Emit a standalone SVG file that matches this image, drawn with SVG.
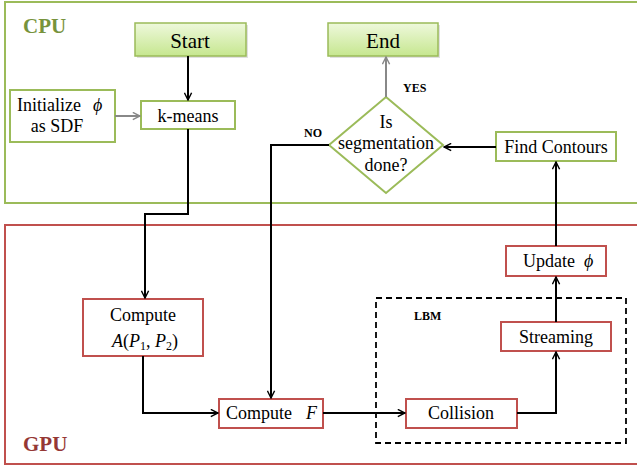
<svg xmlns="http://www.w3.org/2000/svg" width="637" height="466" viewBox="0 0 637 466">
<defs>
<linearGradient id="g" x1="0" y1="0" x2="0" y2="1">
<stop offset="0" stop-color="#eef8dc"/>
<stop offset="1" stop-color="#c6e78f"/>
</linearGradient>
<marker id="ah" viewBox="0 0 10 10" refX="9" refY="5" markerWidth="9" markerHeight="9" markerUnits="userSpaceOnUse" orient="auto">
<path d="M1,1 L9,5 L1,9" fill="none" stroke="#000" stroke-width="1.6"/>
</marker>
<marker id="ahg" viewBox="0 0 10 10" refX="9" refY="5" markerWidth="9" markerHeight="9" markerUnits="userSpaceOnUse" orient="auto">
<path d="M1,1 L9,5 L1,9" fill="none" stroke="#888" stroke-width="1.6"/>
</marker>
</defs>
<style>
text{font-family:"Liberation Serif","Times New Roman",serif;fill:#000}
.t{font-size:18px;text-anchor:middle}
.s{font-size:18px}
.g{fill:#fff;stroke:#9bbb59;stroke-width:2}
.r{fill:#fff;stroke:#c0504d;stroke-width:2}
.se{fill:url(#g);stroke:#9bbb59;stroke-width:1.5}
.sh{fill:#000;opacity:0.12}
.c{fill:none;stroke:#000;stroke-width:2}
.cg{fill:none;stroke:#888;stroke-width:2}
.lb{font-size:12px;font-weight:bold}
</style>
<g id="cpu">
<rect x="5" y="2" width="640" height="201" fill="none" stroke="#9bbb59" stroke-width="2"/>
<text x="23" y="33" style="font-size:21px;font-weight:bold;fill:#77933c">CPU</text>
</g>
<g id="gpu">
<rect x="5" y="225" width="640" height="239" fill="none" stroke="#c0504d" stroke-width="2"/>
<text x="23" y="451" style="font-size:21px;font-weight:bold;fill:#953735">GPU</text>
</g>
<g id="lbm">
<rect x="376" y="298" width="250" height="145" fill="none" stroke="#000" stroke-width="1.8" stroke-dasharray="6,4"/>
<text x="414" y="320" class="lb">LBM</text>
</g>
<g id="start">
<rect x="137" y="25" width="111" height="33" class="sh"/>
<rect x="135" y="23" width="111" height="33" class="se"/>
<text x="190" y="48" class="t" style="font-size:21px">Start</text>
</g>
<g id="end">
<rect x="330" y="25" width="110" height="33" class="sh"/>
<rect x="328" y="23" width="110" height="33" class="se"/>
<text x="383" y="48" class="t" style="font-size:21px">End</text>
</g>
<g id="init">
<rect x="10" y="90" width="105" height="52" class="g"/>
<text x="17" y="111" class="s">Initialize</text>
<text x="93" y="111" class="s" font-style="italic">ϕ</text>
<text x="57" y="132" class="t">as SDF</text>
</g>
<g id="kmeans">
<rect x="141" y="101" width="94" height="28" class="g"/>
<text x="188" y="122" class="t">k-means</text>
</g>
<g id="decision">
<polygon points="386,97 443,145 386,193 329,145" class="g"/>
<text x="386" y="128" class="t">Is</text>
<text x="386" y="149" class="t">segmentation</text>
<text x="386" y="171" class="t">done?</text>
</g>
<g id="contours">
<rect x="496" y="132" width="120" height="29" class="g"/>
<text x="556" y="153" class="t">Find Contours</text>
</g>
<g id="computeA">
<rect x="83" y="299" width="120" height="57" class="r"/>
<text x="143" y="321" class="t">Compute</text>
<text x="112" y="347" class="s" font-style="italic">A<tspan font-style="normal">(</tspan>P<tspan font-size="12" font-style="normal" dy="3">1</tspan><tspan font-style="normal" dy="-3">, </tspan>P<tspan font-size="12" font-style="normal" dy="3">2</tspan><tspan font-style="normal" dy="-3">)</tspan></text>
</g>
<g id="computeF">
<rect x="219" y="399" width="104" height="29" class="r"/>
<text x="226" y="419" class="s">Compute</text>
<text x="306" y="419" class="s" font-style="italic">F</text>
</g>
<g id="collision">
<rect x="406" y="399" width="111" height="29" class="r"/>
<text x="461" y="419" class="t">Collision</text>
</g>
<g id="streaming">
<rect x="501" y="322" width="110" height="29" class="r"/>
<text x="556" y="343" class="t">Streaming</text>
</g>
<g id="update">
<rect x="506" y="246" width="100" height="30" class="r"/>
<text x="523" y="267" class="s">Update</text>
<text x="584" y="267" class="s" font-style="italic">ϕ</text>
</g>
<g id="connectors">
<path d="M188,56 V100" class="c" marker-end="url(#ah)"/>
<path d="M115,116 H140" class="cg" marker-end="url(#ahg)"/>
<path d="M386,97 V57" class="cg" marker-end="url(#ahg)"/>
<path d="M496,147 H444" class="c" marker-end="url(#ah)"/>
<path d="M556,246 V162" class="c" marker-end="url(#ah)"/>
<path d="M329,145 H271 V398" class="c" marker-end="url(#ah)"/>
<path d="M188,129 V214 H145 V298" class="c" marker-end="url(#ah)"/>
<path d="M143,356 V413 H218" class="c" marker-end="url(#ah)"/>
<path d="M323,413 H405" class="c" marker-end="url(#ah)"/>
<path d="M517,413 H556 V352" class="c" marker-end="url(#ah)"/>
<path d="M556,322 V277" class="c" marker-end="url(#ah)"/>
<text x="403" y="92" class="lb">YES</text>
<text x="304" y="137" class="lb">NO</text>
</g>
</svg>
